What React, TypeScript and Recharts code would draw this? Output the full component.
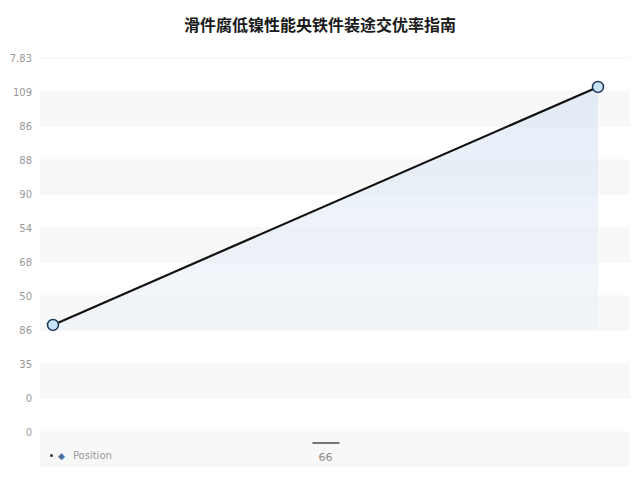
import React from 'react'
import { ComposedChart, Area, Line, XAxis, YAxis, CartesianGrid } from 'recharts'

const title = '滑件腐低镍性能央铁件装途交优率指南'

// x positions of the two points and their heights (in tick-row units)
const xPositions = [0, 1]
const seriesValues = [3.15, 10.15]
const areaBase = 3

// y tick labels from bottom (0) to top (11)
const yTickLabels = ['0', '0', '35', '86', '50', '68', '54', '90', '88', '86', '109', '7.83']
const yTicks = yTickLabels.map((_, i) => i)

const xTickLabel = '66'
const legendLabel = 'Position'

const data = xPositions.map((x, i) => ({ x, value: seriesValues[i] }))

const XTick = (props: any) => {
  const { x, y } = props
  return (
    <g>
      <line x1={x - 13} x2={x + 14} y1={y - 31} y2={y - 31} stroke="#777" strokeWidth={2} />
      <text x={x} y={y - 13} textAnchor="middle" fontSize={11} fill="#8a8a8a" fontFamily="DejaVu Sans">
        {xTickLabel}
      </text>
    </g>
  )
}

export default function App() {
  return (
    <div style={{ position: 'absolute', left: 0, top: 0, width: 640, height: 480, background: '#fff' }}>
      <div
        style={{
          position: 'absolute',
          top: 12,
          width: 640,
          textAlign: 'center',
          fontFamily: '"Noto Sans CJK SC"',
          fontWeight: 'bold',
          fontSize: 16,
          color: '#1a1a1a',
        }}
      >
        {title}
      </div>
      <ComposedChart width={640} height={480} data={data} margin={{ top: 58, right: 10, bottom: 0, left: 0 }}>
        <defs>
          <linearGradient id="fillArea" x1="0" y1="0" x2="0" y2="1">
            <stop offset="0%" stopColor="#d8e4f4" stopOpacity={0.7} />
            <stop offset="100%" stopColor="#e8eff8" stopOpacity={0.45} />
          </linearGradient>
        </defs>
        <CartesianGrid
          vertical={false}
          stroke="#f4f4f4"
          horizontalFill={['#ffffff', '#f8f8f8']}
          fillOpacity={1}
        />
        <XAxis
          dataKey="x"
          type="number"
          domain={[0, 1]}
          ticks={[0.5]}
          height={14}
          padding={{ left: 13, right: 32 }}
          axisLine={false}
          tickLine={false}
          tick={<XTick />}
        />
        <YAxis
          type="number"
          domain={[-1, 11]}
          ticks={yTicks}
          width={40}
          axisLine={false}
          tickLine={false}
          tickFormatter={(v: number) => yTickLabels[v]}
          tick={{ fontSize: 10, fill: '#999', fontFamily: 'DejaVu Sans' }}
        />
        <Area
          dataKey="value"
          type="linear"
          baseValue={areaBase}
          stroke="none"
          fill="url(#fillArea)"
          fillOpacity={1}
          isAnimationActive={false}
          legendType="none"
          activeDot={false}
        />
        <Line
          dataKey="value"
          type="linear"
          stroke="#111"
          strokeWidth={2.2}
          dot={{ r: 5.5, fill: '#c9e3f7', stroke: '#1d3557', strokeWidth: 1.5 }}
          isAnimationActive={false}
        />
      </ComposedChart>
      <div
        style={{
          position: 'absolute',
          left: 50,
          top: 450,
          display: 'flex',
          alignItems: 'center',
          fontFamily: 'DejaVu Sans',
          fontSize: 10,
          color: '#999',
        }}
      >
        <span style={{ width: 3, height: 3, borderRadius: 2, background: '#333', marginRight: 5 }} />
        <span style={{ color: '#4a6fa5', fontSize: 9, marginRight: 8 }}>◆</span>
        <span>{legendLabel}</span>
      </div>
    </div>
  )
}
